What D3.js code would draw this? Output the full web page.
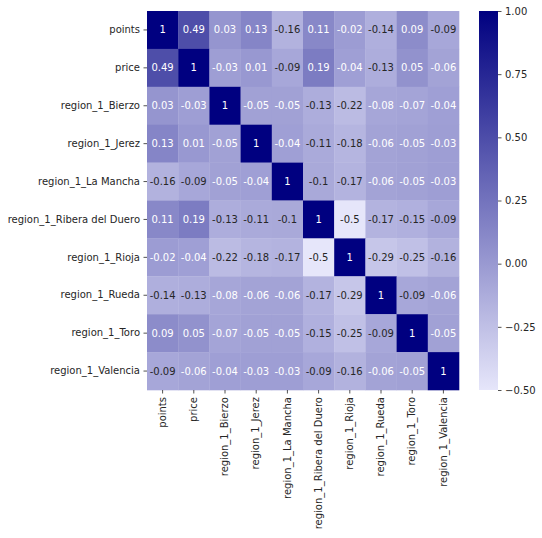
<!DOCTYPE html>
<html lang="en">
<head>
<meta charset="UTF-8" />
<script src="https://cdn.jsdelivr.net/npm/d3@7"></script>
<style>
  body { margin: 0; background: white; }
  text { font-family: "DejaVu Sans", sans-serif; font-size: 10px; fill: #262626; }
</style>
</head>
<body>
<script>
// variable names, rows and columns share the same order
const labels = ["points", "price", "region_1_Bierzo", "region_1_Jerez", "region_1_La Mancha",
  "region_1_Ribera del Duero", "region_1_Rioja", "region_1_Rueda", "region_1_Toro", "region_1_Valencia"];

const corr = [
  [1, 0.49, 0.03, 0.13, -0.16, 0.11, -0.02, -0.14, 0.09, -0.09],
  [0.49, 1, -0.03, 0.01, -0.09, 0.19, -0.04, -0.13, 0.05, -0.06],
  [0.03, -0.03, 1, -0.05, -0.05, -0.13, -0.22, -0.08, -0.07, -0.04],
  [0.13, 0.01, -0.05, 1, -0.04, -0.11, -0.18, -0.06, -0.05, -0.03],
  [-0.16, -0.09, -0.05, -0.04, 1, -0.1, -0.17, -0.06, -0.05, -0.03],
  [0.11, 0.19, -0.13, -0.11, -0.1, 1, -0.5, -0.17, -0.15, -0.09],
  [-0.02, -0.04, -0.22, -0.18, -0.17, -0.5, 1, -0.29, -0.25, -0.16],
  [-0.14, -0.13, -0.08, -0.06, -0.06, -0.17, -0.29, 1, -0.09, -0.06],
  [0.09, 0.05, -0.07, -0.05, -0.05, -0.15, -0.25, -0.09, 1, -0.05],
  [-0.09, -0.06, -0.04, -0.03, -0.03, -0.09, -0.16, -0.06, -0.05, 1]
];

const cbarTicks = [1.0, 0.75, 0.5, 0.25, 0.0, -0.25, -0.5];

const width = 542, height = 538;
const margin = { top: 11, left: 147, right: 83, bottom: 148 };

const svg = d3.select("body").append("svg")
  .attr("width", width)
  .attr("height", height);

const x = d3.scaleBand().domain(labels).range([margin.left, width - margin.right]);
const y = d3.scaleBand().domain(labels).range([margin.top, height - margin.bottom]);

const color = d3.scaleLinear()
  .domain([-0.5, 1])
  .range(["#e6e6fa", "#000080"])
  .interpolate(d3.interpolateRgb);

// seaborn picks text colour from relative luminance of the cell
function lum(c) {
  const rgb = d3.rgb(c);
  const f = v => { v /= 255; return v <= 0.03928 ? v / 12.92 : Math.pow((v + 0.055) / 1.055, 2.4); };
  return 0.2126 * f(rgb.r) + 0.7152 * f(rgb.g) + 0.0722 * f(rgb.b);
}

const cells = [];
corr.forEach((row, i) => row.forEach((v, j) => cells.push({ r: labels[i], c: labels[j], v })));

svg.append("g").selectAll("rect")
  .data(cells)
  .join("rect")
  .attr("x", d => x(d.c))
  .attr("y", d => y(d.r))
  .attr("width", x.bandwidth() + 0.3)
  .attr("height", y.bandwidth() + 0.3)
  .attr("fill", d => color(d.v));

svg.append("g").selectAll("text")
  .data(cells)
  .join("text")
  .attr("x", d => x(d.c) + x.bandwidth() / 2)
  .attr("y", d => y(d.r) + y.bandwidth() / 2)
  .attr("text-anchor", "middle")
  .attr("dominant-baseline", "central")
  .style("fill", d => lum(color(d.v)) > 0.408 ? "#262626" : "white")
  .text(d => d.v);

// axes
const yAxis = svg.append("g")
  .attr("transform", `translate(${margin.left},0)`)
  .call(d3.axisLeft(y).tickSize(3.5).tickPadding(3.5));
yAxis.select(".domain").remove();

const xAxis = svg.append("g")
  .attr("transform", `translate(0,${height - margin.bottom})`)
  .call(d3.axisBottom(x).tickSize(3.5).tickPadding(3.5));
xAxis.select(".domain").remove();
xAxis.selectAll("text")
  .attr("transform", "rotate(-90)")
  .attr("text-anchor", "end")
  .attr("x", -7)
  .attr("y", 0)
  .attr("dy", "0.32em");

svg.selectAll(".tick line").attr("stroke", "#262626").attr("stroke-width", 0.8);
svg.selectAll(".tick text").attr("font-family", "DejaVu Sans").attr("font-size", 10).style("fill", "#262626");

// colour bar
const cbX = 479, cbW = 19;
const cy = d3.scaleLinear().domain([-0.5, 1]).range([height - margin.bottom, margin.top]);

const grad = svg.append("defs").append("linearGradient")
  .attr("id", "cbar")
  .attr("x1", 0).attr("y1", 1).attr("x2", 0).attr("y2", 0);
grad.append("stop").attr("offset", 0).attr("stop-color", color(-0.5));
grad.append("stop").attr("offset", 1).attr("stop-color", color(1));

svg.append("rect")
  .attr("x", cbX)
  .attr("y", cy(1))
  .attr("width", cbW)
  .attr("height", cy(-0.5) - cy(1))
  .attr("fill", "url(#cbar)");

const cAxis = svg.append("g")
  .attr("transform", `translate(${cbX + cbW},0)`)
  .call(d3.axisRight(cy).tickValues(cbarTicks).tickSize(3.5).tickPadding(3.5)
    .tickFormat(d => d3.format(".2f")(d).replace("-", "\u2212")));
cAxis.select(".domain").remove();
cAxis.selectAll(".tick line").attr("stroke", "#262626").attr("stroke-width", 0.8);
cAxis.selectAll(".tick text").attr("font-family", "DejaVu Sans").attr("font-size", 10).style("fill", "#262626");
</script>
</body>
</html>
